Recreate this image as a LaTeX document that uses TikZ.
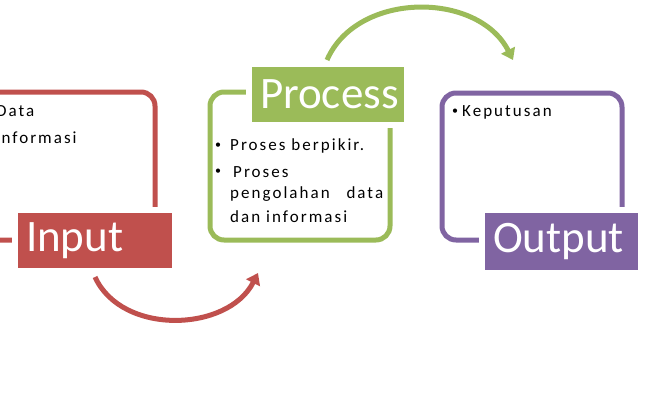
\documentclass[tikz,border=0pt]{standalone}
\usepackage{fontspec}
\setmainfont{Carlito}
\newfontfamily\bodyfont[LetterSpace=12]{Carlito}
\usetikzlibrary{arrows.meta}
\definecolor{cred}{HTML}{C0504D}
\definecolor{cgreen}{HTML}{9BBB59}
\definecolor{cpurple}{HTML}{8064A2}
\begin{document}
\begin{tikzpicture}[x=1pt,y=-1pt,
  frame/.style={draw=#1, line width=5pt, rounded corners=14pt, inner sep=0pt, outer sep=0pt},
  lbl/.style={fill=#1, preaction={draw=white, line width=12pt}, inner xsep=8pt, inner ysep=0pt,
    text=white, font=\fontsize{45}{45}\selectfont, align=left, minimum height=55pt},
  body/.style={anchor=west, inner sep=0pt, font=\bodyfont\fontsize{17}{17}\selectfont},
  bul/.style={anchor=west, inner sep=0pt, font=\fontsize{12}{12}\selectfont},
  arr/.style={draw=#1, line width=5pt, -{Triangle[width=15pt,length=11pt]}}]
\useasboundingbox (0,0) rectangle (650,400);
\clip (0,0) rectangle (650,400);
% frames
\node[frame=cred, minimum width=175pt, minimum height=148pt] (inframe) at (67.5,166) {};
\node[frame=cgreen, minimum width=180pt, minimum height=148pt] (procframe) at (300,166) {};
\node[frame=cpurple, minimum width=180pt, minimum height=147pt] (outframe) at (532,166.5) {};
% labels
\node[lbl=cred, text width=138pt] (inlbl) at (95,240.5) {Input};
\node[lbl=cgreen, text width=136pt] (proclbl) at (328,94.5) {Process};
\node[lbl=cpurple, text width=137pt, minimum height=57pt] (outlbl) at (561.5,241.5) {Output};
% input texts
\node[bul] (inb1) at (-16,111) {•};
\node[body] (int1) at (-4,111) {Data};
\node[bul] (inb2) at (-17,138) {•};
\node[body] (int2) at (-5,138) {Informasi};
% process texts
\node[bul] (pb1) at (215,146) {•};
\node[body] (pt1) at (230,146) {Proses berpikir.};
\node[bul] (pb2) at (215,172) {•};
\node[body] (pt2) at (233,172) {Proses};
\node[body] (pt3) at (230,194) {\hbox to 153pt{pengolahan\hfill data}};
\node[body] (pt4) at (230,217) {dan informasi};
% output text
\node[bul] (ob1) at (452,112) {•};
\node[body] (ot1) at (462,112) {Keputusan};
% arrows
\coordinate (ra) at (95,277);
\coordinate (rb) at (258,273);
\coordinate (ga) at (327,60);
\coordinate (gb) at (513,60);
\draw[arr=cred] (ra) .. controls (122,336) and (228,332) .. (rb);
\draw[arr=cgreen] (ga) .. controls (357,-9) and (478,-9) .. (gb);
\end{tikzpicture}
\end{document}
